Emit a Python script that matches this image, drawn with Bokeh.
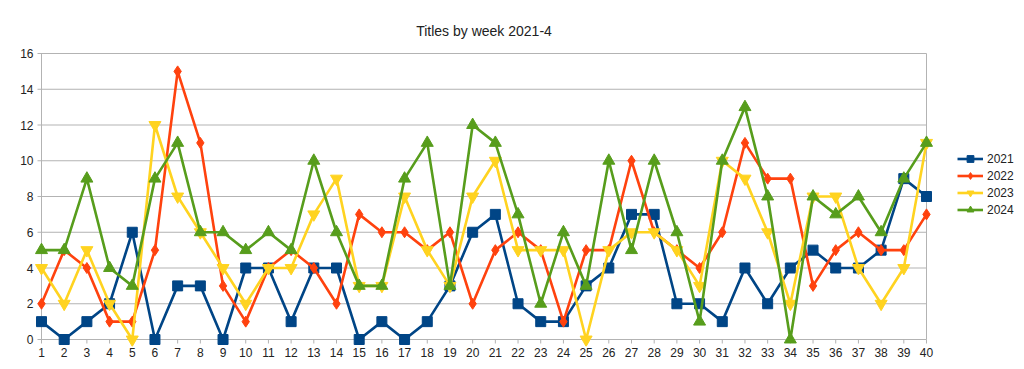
from bokeh.plotting import figure
from bokeh.models import Range1d, FixedTicker, Legend, LegendItem
from bokeh.embed import file_html
from bokeh.resources import INLINE

weeks = list(range(1, 41))
s2021 = [1,0,1,2,6,0,3,3,0,4,4,1,4,4,0,1,0,1,3,6,7,2,1,1,3,4,7,7,2,2,1,4,2,4,5,4,4,5,9,8]
s2022 = [2,5,4,1,1,5,15,11,3,1,4,5,4,2,7,6,6,5,6,2,5,6,5,1,5,5,10,6,5,4,6,11,9,9,3,5,6,5,5,7]
s2023 = [4,2,5,2,0,12,8,6,4,2,4,4,7,9,3,3,8,5,3,8,10,5,5,5,0,5,6,6,5,3,10,9,6,2,8,8,4,2,4,11]
s2024 = [5,5,9,4,3,9,11,6,6,5,6,5,10,6,3,3,9,11,3,12,11,7,2,6,3,10,5,10,6,1,10,13,8,0,8,7,8,6,9,11]
series_names = ["2021", "2022", "2023", "2024"]
y_ticks = list(range(0, 17, 2))

FONT = "Liberation Sans"
GRID = "#b3b3b3"
TXT = "#222222"

x0, x1 = weeks[0], weeks[-1]
y0, y1 = y_ticks[0], y_ticks[-1]
# plot area (between first/last week and 0..16) in pixels, plus padding so markers are not clipped
AREA_W, AREA_H, PAD = 885, 286, 7
xu = (x1 - x0) / AREA_W   # data units per pixel
yu = (y1 - y0) / AREA_H
xpad, ypad = PAD * xu, PAD * yu

p = figure(frame_width=AREA_W + 2 * PAD, frame_height=AREA_H + 2 * PAD,
           output_backend="svg", toolbar_location=None,
           x_range=Range1d(x0 - xpad, x1 + xpad), y_range=Range1d(y0 - ypad, y1 + ypad),
           min_border_left=34, min_border_right=83, min_border_top=46, min_border_bottom=15,
           title="Titles by week 2021-4")
p.title.align = "center"
p.title.text_font = FONT
p.title.text_font_size = "14px"
p.title.text_font_style = "normal"
p.title.text_color = TXT
p.title.offset = 0
p.title.standoff = 15

p.outline_line_color = None
p.background_fill_color = "white"
p.border_fill_color = "white"

for ax in (p.xaxis, p.yaxis):
    ax.axis_line_color = None
    ax.major_tick_line_color = None
    ax.major_tick_out = 0
    ax.major_tick_in = 0
    ax.minor_tick_line_color = None
    ax.major_label_text_font = FONT
    ax.major_label_text_font_size = "12px"
    ax.major_label_text_color = TXT

p.xaxis.ticker = FixedTicker(ticks=weeks)
p.yaxis.ticker = FixedTicker(ticks=y_ticks)
p.xaxis.major_label_standoff = 1
p.yaxis.major_label_standoff = 1

p.xgrid.grid_line_color = None
p.ygrid.grid_line_color = None

# grid lines, axis lines, right border and small tick marks
n_y = len(y_ticks)
p.segment(x0=[x0 - 4 * xu] * n_y, x1=[x1] * n_y, y0=y_ticks, y1=y_ticks,
          line_color=GRID, line_width=1)
p.segment(x0=[x0, x1], x1=[x0, x1], y0=[y0, y0], y1=[y1, y1], line_color=GRID, line_width=1)
p.segment(x0=weeks, x1=weeks, y0=[y0] * len(weeks), y1=[y0 - 4 * yu] * len(weeks),
          line_color=GRID, line_width=1)

colors = ["#004586", "#ff420e", "#ffd320", "#579d1c"]
markers = ["square", "diamond", "inverted_triangle", "triangle"]
sizes = [10, 11, 12, 12]
data = [s2021, s2022, s2023, s2024]

items = []
for name, vals, c, m, sz in zip(series_names, data, colors, markers, sizes):
    r1 = p.line(weeks, vals, line_color=c, line_width=2.6)
    r2 = p.scatter(weeks, vals, marker=m, size=sz, fill_color=c, line_color=c)
    items.append(LegendItem(label=name, renderers=[r1, r2]))

legend = Legend(items=items, location=(24, 128))
legend.border_line_color = None
legend.background_fill_alpha = 0
legend.padding = 0
legend.margin = 0
legend.spacing = 0
legend.glyph_height = 17
legend.label_height = 17
legend.glyph_width = 26
legend.label_standoff = 4
legend.label_text_font = FONT
legend.label_text_font_size = "12px"
legend.label_text_color = TXT
p.add_layout(legend, "right")

open("out.html", "w").write(file_html(p, INLINE))
